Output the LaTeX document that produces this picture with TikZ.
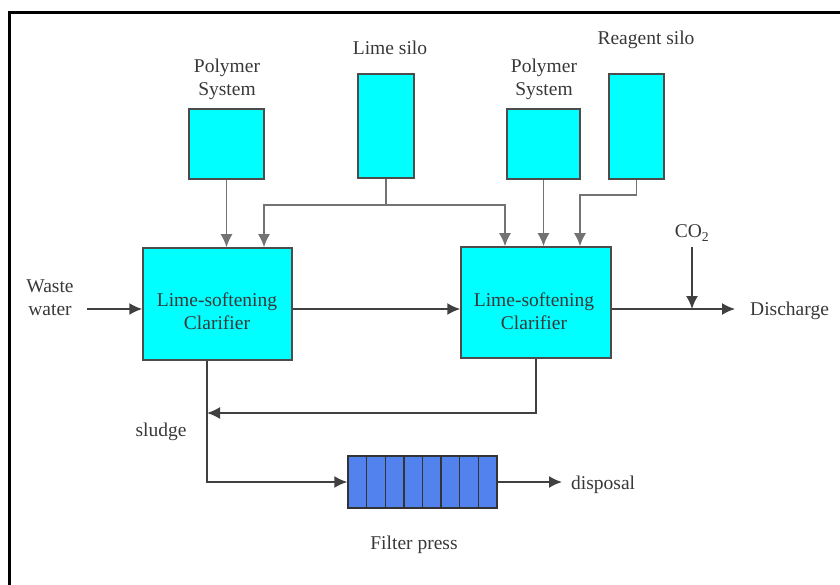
\documentclass[tikz,border=0pt]{standalone}
\usepackage{fontspec}
\setmainfont{Liberation Serif}
\usetikzlibrary{arrows.meta}
\definecolor{tankcyan}{RGB}{0,255,255}
\definecolor{pressblue}{RGB}{82,130,238}
\newcommand{\drawTank}[5]{
\node [tank,minimum width=#4,minimum height=#5] (#1) at (#2,#3) {};
}

\begin{document}
\begin{tikzpicture}[x=1pt,y=-1pt,>={Latex[length=13pt,width=12pt]},
  tank/.style={draw=black!70,line width=1.5pt,fill=tankcyan,inner sep=0pt},
  flow/.style={line width=1.7pt,black!75},
  feed/.style={line width=1.7pt,black!55},
  lbl/.style={text=black!78,align=center,inner sep=0pt}]
\fontsize{19.5}{23}\selectfont
\useasboundingbox (0,0) rectangle (840,585);
\draw [line width=3pt] (9,585) -- (9,13) -- (840,13);
%
\drawTank{poly1}{226.5}{144}{75}{70};\node [lbl] (poly1txt) at (227,79) {Polymer\\System};
\drawTank{lime}{386}{126}{56}{104};\node [lbl] (limetxt) at (390,48) {Lime silo};
\drawTank{poly2}{543.5}{144}{73}{70};\node [lbl] (poly2txt) at (544,79) {Polymer\\System};
\drawTank{reag}{636.5}{126.5}{55}{105};\node [lbl] (reagtxt) at (646,40) {Reagent silo};
%
\drawTank{clarA}{217.5}{304}{149}{112};\node [lbl] (clarAtxt) at (217,311) {Lime-softening\\Clarifier};
\drawTank{clarB}{536}{302.5}{150}{111};\node [lbl] (clarBtxt) at (534,311) {Lime-softening\\Clarifier};
%
\node [draw=black!80,line width=1.4pt,fill=pressblue,minimum width=149,minimum height=52,inner sep=0pt] (press) at (422.5,482) {};
\foreach \i in {1,...,7} \draw [black!80,line width=1.4pt] (348+\i*18.625,456) -- ++(0,52);
\node [lbl] (presstxt) at (414,545) {Filter press};
%
\coordinate (mainy) at (0,309);
\coordinate (wastein) at (87,309);
\coordinate (disin) at (735,309);
\coordinate (busA) at (264,205);
\coordinate (busB) at (505,205);
\coordinate (reagbend) at (580,195);
\coordinate (sl) at (207,413);
\coordinate (sl2) at (207,482);
\coordinate (dispin) at (562,482);
\node [lbl] (wastetxt) at (50,298) {Waste\\water};
\node [lbl] (co2) at (692,233) {CO\textsubscript{2}};
\node [lbl,anchor=west] (distxt) at (750,311) {Discharge};
\node [lbl] (sludgetxt) at (161,432) {sludge};
\node [lbl,anchor=west] (disptxt) at (571,485) {disposal};
%
\draw [feed,->] (poly1.south) -- (poly1.south |- clarA.north);
\draw [feed,->] (poly2.south) -- (poly2.south |- clarB.north);
\draw [feed] (lime.south) -- (lime.south |- busA);
\draw [feed,<->] (busA |- clarA.north) -- (busA) -- (busB) -- (busB |- clarB.north);
\draw [feed,->] (reag.south) |- (reagbend) -- (reagbend |- clarB.north);
%
\draw [flow,->] (wastein) -- (wastein -| clarA.west);
\draw [flow,->] (clarA.east |- mainy) -- (clarB.west |- mainy);
\draw [flow,->] (clarB.east |- mainy) -- (disin);
\draw [flow,->] (co2) ++(0,14) -- (co2 |- mainy);
\draw [flow,->] (clarB.south) |- (sl);
\draw [flow,->] (sl |- clarA.south) -- (sl2) -- (sl2 -| press.west);
\draw [flow,->] (press.east) -- (dispin);
\end{tikzpicture}
\end{document}
